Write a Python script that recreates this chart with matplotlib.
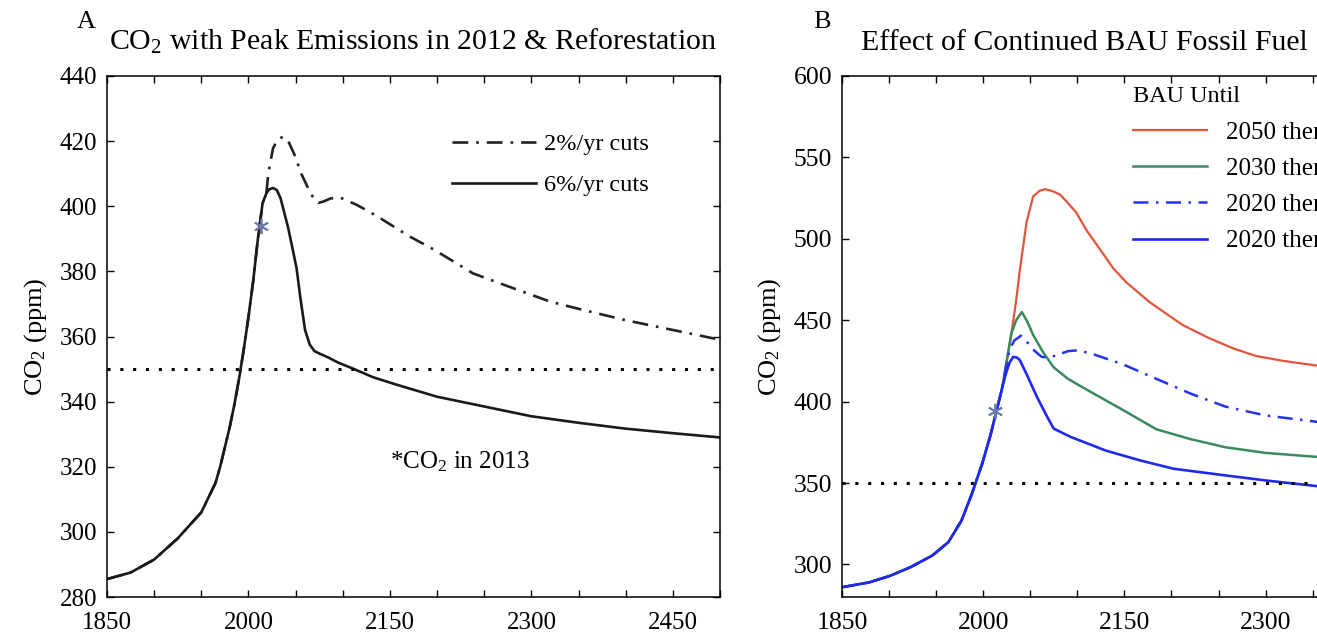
import numpy as np
import matplotlib
matplotlib.use('Agg')
import matplotlib.pyplot as plt
from matplotlib.ticker import MultipleLocator, FuncFormatter

plt.rcParams['font.family'] = ['Liberation Serif', 'DejaVu Serif']
plt.rcParams['mathtext.fontset'] = 'custom'
plt.rcParams['mathtext.rm'] = 'Liberation Serif'
plt.rcParams['mathtext.it'] = 'Liberation Serif:italic'

# ---- Panel A data ----
a_hist_years = [1850, 1875, 1900, 1925, 1950, 1960, 1965, 1970, 1975, 1980, 1985,
                1990, 1995, 2000, 2005, 2010, 2015, 2019]
a_hist_ppm = [285.5, 287.5, 291.5, 298, 306, 312, 315, 320, 326, 332, 339,
              347, 356, 366, 377, 390, 401, 404]

a6_years = [2022, 2026, 2030, 2034, 2038, 2042, 2046, 2051, 2055, 2060, 2065, 2070,
            2075, 2085, 2095, 2112, 2132, 2156, 2200, 2250, 2300, 2350, 2400, 2450, 2500]
a6_ppm = [405.2, 405.6, 405, 402.5, 398, 393.5, 388, 381, 372, 362, 357.5, 355.5,
          354.8, 353.5, 352, 350, 347.5, 345.3, 341.5, 338.5, 335.5, 333.5, 331.7, 330.3, 329]

a2_years = [2021, 2026, 2031, 2037, 2043, 2049, 2056, 2065, 2070, 2074, 2080, 2087,
            2097, 2115, 2136, 2171, 2196, 2238, 2281, 2320, 2350, 2400, 2450, 2500]
a2_ppm = [410, 417.8, 420.5, 421.4, 419.5, 415.7, 410, 404.5, 402, 401, 401.5, 402.4,
          402.7, 400.4, 397, 390.7, 386.8, 379.4, 374.8, 370.7, 368.5, 365, 362, 359]

co2_2013 = (2013, 394)
target_ppm = 350

# ---- Panel B data ----
b_hist_years = [1850, 1879, 1901, 1923, 1946, 1963, 1977, 1988, 1999, 2008, 2017, 2020]
b_hist_ppm = [286, 289, 293, 298.4, 305.5, 313.7, 327, 343.4, 362, 380, 401, 408]

b2050_years = [2025, 2030, 2035, 2039, 2046, 2053, 2060, 2066, 2075, 2082, 2090, 2099,
               2110, 2124, 2138, 2152, 2177, 2212, 2240, 2266, 2290, 2319, 2356]
b2050_ppm = [425, 442, 462, 481, 510, 526, 529.5, 530.5, 529, 527, 522, 516,
             505, 493.6, 482, 473.3, 461, 447, 439, 432.6, 428, 425, 422]

b2030_years = [2025, 2030, 2035, 2041, 2047, 2053, 2064, 2075, 2090, 2111, 2148,
               2184, 2220, 2257, 2300, 2356]
b2030_ppm = [425, 442, 450, 455, 449, 441, 430, 421, 414, 407, 395,
             383, 377, 372, 368.5, 366]

b2020dd_years = [2024, 2028, 2033, 2040, 2046, 2053, 2062, 2070, 2078, 2090, 2100,
                 2115, 2148, 2184, 2220, 2257, 2300, 2356]
b2020dd_ppm = [420, 432, 437.5, 440.5, 437, 432, 427.5, 427, 428.5, 431, 431.5,
               429.5, 423, 414, 405, 397, 391.5, 387.5]

b2020_years = [2024, 2028, 2032, 2036, 2039, 2046, 2057, 2068, 2075, 2093, 2130,
               2166, 2202, 2257, 2300, 2356]
b2020_ppm = [417, 424, 427.5, 427, 425.4, 417, 403, 390.6, 383.4, 378.3, 370,
             364, 358.8, 354.7, 351.6, 348]

b_labels = ['2050 then', '2030 then', '2020 then', '2020 then']

fig = plt.figure(figsize=(13.17, 6.35), dpi=100)
W, H = 1317, 635
axA = fig.add_axes([107 / W, 38 / H, 613 / W, 521 / H])
axB = fig.add_axes([842 / W, 38 / H, 475 / W, 521 / H])

dashdot = (0, (6, 3, 1, 3))
dots = (0, (1, 3.2))
star_marker = (6, 2, 0)


def year_fmt(x, pos):
    return '%d' % x if (round(x) - 1850) % 150 == 0 else ''


def style_axis(ax, xmax, ylim, ystep, fs):
    ax.set_xlim(1850, xmax)
    ax.set_ylim(*ylim)
    ax.xaxis.set_major_locator(MultipleLocator(50))
    ax.xaxis.set_major_formatter(FuncFormatter(year_fmt))
    ax.yaxis.set_major_locator(MultipleLocator(ystep))
    ax.tick_params(direction='in', top=True, right=True, length=5, width=1,
                   labelsize=fs)
    ax.tick_params(axis='x', pad=11)
    ax.tick_params(axis='y', pad=7)
    for s in ax.spines.values():
        s.set_linewidth(1.1)


# Panel A
ax = axA
ax.plot(a_hist_years + a2_years, a_hist_ppm + a2_ppm, color='#222222', lw=1.9,
        linestyle=dashdot, label='2%/yr cuts')
ax.plot(a_hist_years + a6_years, a_hist_ppm + a6_ppm, color='#1a1a1a', lw=1.9,
        label='6%/yr cuts')
ax.axhline(target_ppm, color='black', lw=2.2, linestyle=dots)
ax.plot(*co2_2013, marker=star_marker, color='#6a78a8', ms=11, mew=1.3, linestyle='none')
style_axis(ax, 2500, (280, 440), 20, 18)
ax.set_ylabel('CO$_2$ (ppm)', fontsize=19, labelpad=8)
ax.legend(loc='upper left', bbox_to_anchor=(0.563, 0.89), frameon=False,
          fontsize=17.5, handlelength=3.45, handletextpad=0.35, labelspacing=0.78,
          borderpad=0, borderaxespad=0)
ax.text(2150, 321.5, '*CO$_2$ in 2013', fontsize=18, ha='left', va='center')

# Panel B (cropped at the right edge, as in the original)
ax = axB
ax.plot(b_hist_years + b2050_years, b_hist_ppm + b2050_ppm, color='#e2553b', lw=1.6,
        label=b_labels[0])
ax.plot(b_hist_years + b2030_years, b_hist_ppm + b2030_ppm, color='#3b8a5e', lw=1.8,
        label=b_labels[1])
ax.plot(b_hist_years + b2020dd_years, b_hist_ppm + b2020dd_ppm, color='#2233ee', lw=1.8,
        linestyle=dashdot, label=b_labels[2])
ax.plot(b_hist_years + b2020_years, b_hist_ppm + b2020_ppm, color='#1f2aee', lw=1.9,
        label=b_labels[3])
ax.axhline(target_ppm, color='black', lw=2.2, linestyle=dots)
ax.plot(*co2_2013, marker=star_marker, color='#6a78a8', ms=11, mew=1.3, linestyle='none')
style_axis(ax, 2354.6, (280, 600), 50, 18.5)
ax.spines['right'].set_visible(False)
ax.tick_params(right=False)
ax.set_ylabel('CO$_2$ (ppm)', fontsize=19, labelpad=8)
ax.legend(loc='upper left', bbox_to_anchor=(0.613, 0.98), frameon=False,
          title='BAU Until', title_fontsize=17.5, alignment='left',
          fontsize=18, handlelength=2.95, handletextpad=0.75, labelspacing=0.55,
          borderpad=0, borderaxespad=0)

fig.text(413 / W, 1 - 50 / H, 'CO$_2$ with Peak Emissions in 2012 & Reforestation',
         fontsize=21.5, ha='center', va='baseline')
fig.text(861 / W, 1 - 50 / H, 'Effect of Continued BAU Fossil Fuel',
         fontsize=21.5, ha='left', va='baseline')
fig.text(86 / W, 1 - 22 / H, 'A', fontsize=19, ha='center', va='center')
fig.text(822 / W, 1 - 22 / H, 'B', fontsize=19, ha='center', va='center')

fig.savefig('out.png', dpi=100)
